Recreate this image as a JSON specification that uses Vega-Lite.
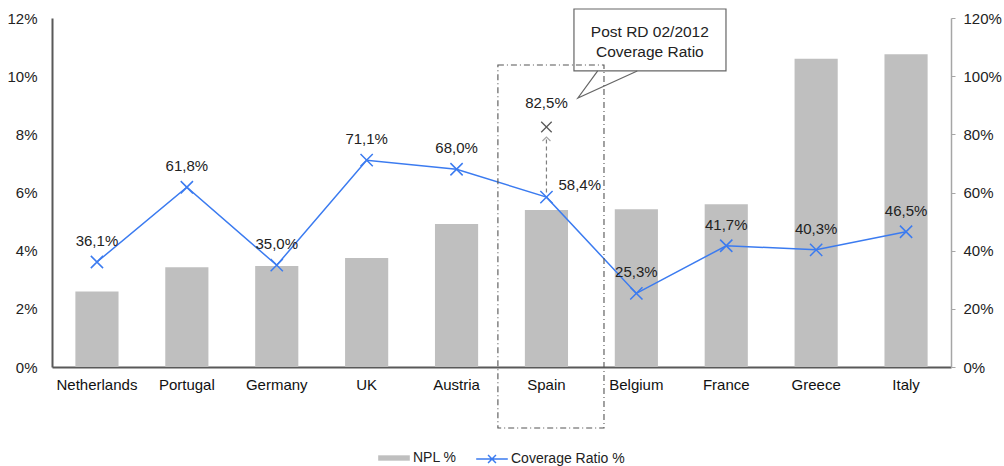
{
  "$schema": "https://vega.github.io/schema/vega-lite/v6.json",
  "width": 899,
  "height": 349,
  "autosize": "none",
  "padding": {"left": 52, "top": 18, "right": 53, "bottom": 99},
  "background": "white",
  "config": {
    "font": "Liberation Sans",
    "view": {"stroke": null},
    "locale": {"number": {"decimal": ",", "thousands": ".", "grouping": [3], "currency": ["", " €"]}},
    "legend": {"labelFontSize": 14, "labelColor": "#222222", "orient": "bottom", "offset": 50, "layout": {"bottom": {"anchor": "middle", "direction": "horizontal", "margin": 18}}}
  },
  "datasets": {
    "countries": [
      {"country": "Netherlands", "npl": 0.026, "coverage": 0.361},
      {"country": "Portugal", "npl": 0.0343, "coverage": 0.618},
      {"country": "Germany", "npl": 0.0347, "coverage": 0.350},
      {"country": "UK", "npl": 0.0375, "coverage": 0.711},
      {"country": "Austria", "npl": 0.0492, "coverage": 0.680},
      {"country": "Spain", "npl": 0.054, "coverage": 0.584},
      {"country": "Belgium", "npl": 0.0542, "coverage": 0.253},
      {"country": "France", "npl": 0.056, "coverage": 0.417},
      {"country": "Greece", "npl": 0.106, "coverage": 0.403},
      {"country": "Italy", "npl": 0.1075, "coverage": 0.465}
    ],
    "post": [{"country": "Spain", "coverage": 0.825, "from": 0.60, "to": 0.784}],
    "spainBox": [{"x0": 4.96, "x1": 6.14, "top": 1.0385, "bottom": -0.21}],
    "callout": [{"x0": 5.806, "x1": 7.497, "top": 1.231, "bottom": 1.018}],
    "calloutText": [
      {"x": 6.65, "y": 1.152, "text": "Post RD 02/2012"},
      {"x": 6.65, "y": 1.083, "text": "Coverage Ratio"}
    ],
    "pointer": [
      {"x": 6.07, "y": 1.018, "seq": 1},
      {"x": 5.85, "y": 0.925, "seq": 2},
      {"x": 6.51, "y": 1.018, "seq": 3}
    ]
  },
  "resolve": {"scale": {"x": "independent", "y": "independent"}},
  "layer": [
    {
      "data": {"name": "countries"},
      "mark": {"type": "bar"},
      "encoding": {
        "x": {
          "field": "country", "type": "nominal", "sort": null,
          "scale": {"domain": ["Netherlands", "Portugal", "Germany", "UK", "Austria", "Spain", "Belgium", "France", "Greece", "Italy"], "paddingInner": 0.52, "paddingOuter": 0.26},
          "axis": {"title": null, "labelAngle": 0, "ticks": false, "tickSize": 0, "labelPadding": 10, "labelFontSize": 15, "labelColor": "#111111", "domainColor": "#595959", "domainWidth": 2}
        },
        "y": {
          "field": "npl", "type": "quantitative",
          "scale": {"domain": [0, 0.12], "nice": false},
          "axis": {"title": null, "orient": "left", "format": ".0%", "values": [0, 0.02, 0.04, 0.06, 0.08, 0.1, 0.12], "grid": false, "ticks": false, "tickSize": 0, "labelPadding": 15, "labelFontSize": 15, "labelColor": "#222222", "domainColor": "#595959", "domainWidth": 2}
        },
        "fill": {
          "datum": "NPL %",
          "scale": {"range": ["#bfbfbf"]},
          "legend": {"title": null, "symbolType": "M-1,-0.17H1V0.17H-1Z", "symbolSize": 1000, "symbolStrokeWidth": 0, "labelOffset": 3}
        }
      }
    },
    {
      "data": {"name": "countries"},
      "encoding": {
        "x": {
          "field": "country", "type": "nominal", "sort": null,
          "scale": {"domain": ["Netherlands", "Portugal", "Germany", "UK", "Austria", "Spain", "Belgium", "France", "Greece", "Italy"], "paddingInner": 0.52, "paddingOuter": 0.26},
          "axis": null
        },
        "y": {
          "field": "coverage", "type": "quantitative",
          "scale": {"domain": [0, 1.2], "nice": false},
          "axis": {"title": null, "orient": "right", "format": ".0%", "values": [0, 0.2, 0.4, 0.6, 0.8, 1.0, 1.2], "grid": false, "ticks": true, "tickSize": 4, "tickColor": "#a6a6a6", "labelPadding": 8, "labelFontSize": 15, "labelColor": "#222222", "domainColor": "#a6a6a6", "domainWidth": 1.5}
        }
      },
      "layer": [
        {
          "data": {"name": "post"},
          "mark": {"type": "rule", "color": "#7f7f7f", "strokeDash": [4, 3], "strokeWidth": 1.2},
          "encoding": {
            "y": {"field": "from", "type": "quantitative"},
            "y2": {"field": "to"}
          }
        },
        {
          "data": {"name": "post"},
          "mark": {"type": "point", "shape": "M-1,0.5L0,-0.5L1,0.5", "filled": false, "size": 64, "stroke": "#7f7f7f", "strokeWidth": 1.2},
          "encoding": {
            "y": {"field": "to", "type": "quantitative"}
          }
        },
        {
          "mark": {"type": "line", "strokeWidth": 1.5},
          "encoding": {
            "stroke": {
              "datum": "Coverage Ratio %",
              "scale": {"range": ["#3b7bf0"]},
              "legend": {"title": null, "symbolType": "M-1,0H1M-0.25,-0.25L0.25,0.25M-0.25,0.25L0.25,-0.25", "symbolSize": 1000, "symbolStrokeWidth": 1.5, "symbolFillColor": "transparent", "labelOffset": 2}
            }
          }
        },
        {
          "mark": {"type": "point", "shape": "M-1,-1L1,1M-1,1L1,-1", "filled": false, "size": 150, "stroke": "#3b7bf0", "strokeWidth": 1.5, "opacity": 1}
        },
        {
          "data": {"name": "post"},
          "mark": {"type": "point", "shape": "M-1,-1L1,1M-1,1L1,-1", "filled": false, "size": 110, "stroke": "#595959", "strokeWidth": 1.3, "opacity": 1}
        },
        {
          "data": {"name": "post"},
          "mark": {"type": "text", "dy": -24, "fontSize": 15, "color": "#222222"},
          "encoding": {"text": {"field": "coverage", "type": "quantitative", "format": ".1%"}}
        },
        {
          "transform": [{"filter": "datum.country !== 'Spain'"}],
          "mark": {"type": "text", "dy": -21, "fontSize": 15, "color": "#222222"},
          "encoding": {"text": {"field": "coverage", "type": "quantitative", "format": ".1%"}}
        },
        {
          "transform": [{"filter": "datum.country === 'Spain'"}],
          "mark": {"type": "text", "dx": 12, "dy": -12, "align": "left", "fontSize": 15, "color": "#222222"},
          "encoding": {"text": {"field": "coverage", "type": "quantitative", "format": ".1%"}}
        }
      ]
    },
    {
      "encoding": {
        "x": {"type": "quantitative", "scale": {"domain": [0, 10], "nice": false, "zero": false}, "axis": null},
        "y": {"type": "quantitative", "scale": {"domain": [0, 1.2], "nice": false, "zero": false}, "axis": null}
      },
      "layer": [
        {
          "data": {"name": "callout"},
          "mark": {"type": "rect", "fill": "white", "stroke": "#666666", "strokeWidth": 1.2},
          "encoding": {
            "x": {"field": "x0", "type": "quantitative"},
            "x2": {"field": "x1"},
            "y": {"field": "top", "type": "quantitative"},
            "y2": {"field": "bottom"}
          }
        },
        {
          "data": {"name": "pointer"},
          "mark": {"type": "line", "color": "#666666", "strokeWidth": 1.2, "interpolate": "linear"},
          "encoding": {
            "x": {"field": "x", "type": "quantitative"},
            "y": {"field": "y", "type": "quantitative"},
            "order": {"field": "seq", "type": "quantitative"}
          }
        },
        {
          "data": {"name": "calloutText"},
          "mark": {"type": "text", "fontSize": 15.5, "color": "#222222", "align": "center", "baseline": "middle"},
          "encoding": {
            "x": {"field": "x", "type": "quantitative"},
            "y": {"field": "y", "type": "quantitative"},
            "text": {"field": "text"}
          }
        },
        {
          "data": {"name": "spainBox"},
          "mark": {"type": "rect", "fill": null, "filled": false, "stroke": "#555555", "strokeWidth": 1.1, "strokeDash": [6, 3, 1, 3]},
          "encoding": {
            "x": {"field": "x0", "type": "quantitative"},
            "x2": {"field": "x1"},
            "y": {"field": "top", "type": "quantitative"},
            "y2": {"field": "bottom"}
          }
        }
      ]
    }
  ]
}
